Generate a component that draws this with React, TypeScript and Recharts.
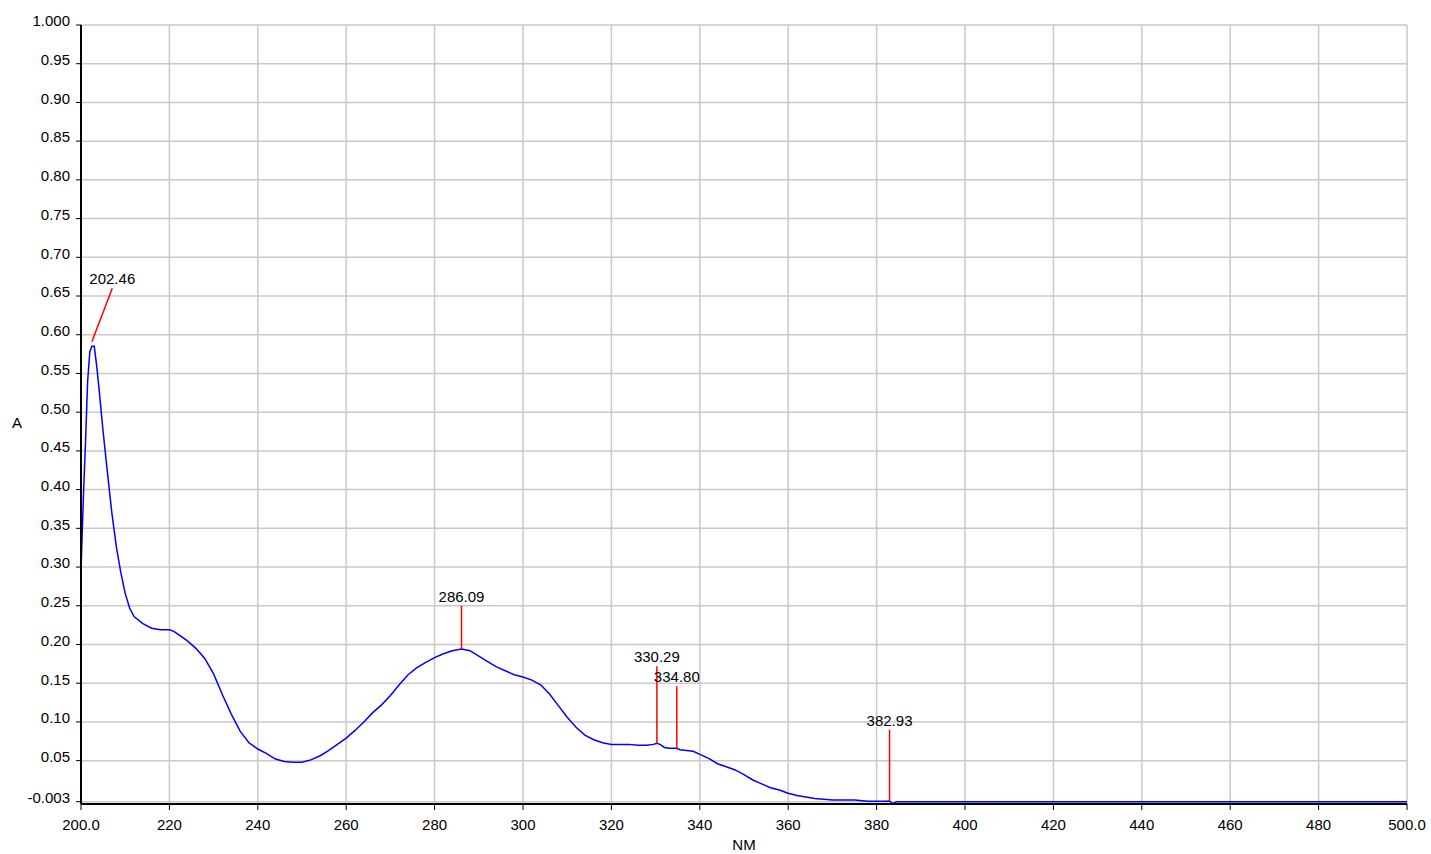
import { LineChart, Line, XAxis, YAxis, CartesianGrid, ReferenceLine, ReferenceDot } from 'recharts';

// absorbance scan, 200-500 nm
const wavelengths = [
  200.0, 200.6, 201.0, 201.5, 202.0, 202.46, 203.0, 203.5, 204.0, 205.0, 206.0, 207.0, 208.0, 209.0,
  210.0, 211.0, 212.0, 214.0, 216.0, 218.0, 220.0, 221.0, 222.0, 224.0, 226.0, 228.0, 230.0, 232.0,
  234.0, 236.0, 238.0, 240.0, 242.0, 244.0, 246.0, 248.0, 250.0, 252.0, 254.0, 256.0, 258.0, 260.0,
  262.0, 264.0, 266.0, 268.0, 270.0, 272.0, 274.0, 276.0, 278.0, 280.0, 282.0, 284.0, 286.09, 288.0,
  290.0, 292.0, 294.0, 296.0, 298.0, 300.0, 302.0, 304.0, 306.0, 308.0, 310.0, 312.0, 314.0, 316.0,
  318.0, 320.0, 322.0, 324.0, 326.0, 328.0, 329.5, 330.29, 331.0, 332.0, 333.0, 334.8, 335.5, 337.0,
  338.5, 340.0, 342.0, 344.0, 346.0, 348.0, 350.0, 352.0, 354.0, 356.0, 358.0, 360.0, 362.0, 364.0,
  366.0, 368.0, 370.0, 375.0, 378.0, 382.0, 382.93, 383.6, 384.5, 500.0,
];

const absorbance = [
  0.297, 0.4, 0.458, 0.54, 0.578, 0.585, 0.585, 0.562, 0.535, 0.475, 0.421, 0.369, 0.326, 0.293,
  0.266, 0.247, 0.236, 0.227, 0.221, 0.219, 0.219, 0.217, 0.213, 0.205, 0.195, 0.182, 0.162, 0.135,
  0.11, 0.088, 0.073, 0.065, 0.059, 0.052, 0.049, 0.048, 0.048, 0.051, 0.056, 0.063, 0.071, 0.079,
  0.089, 0.1, 0.112, 0.122, 0.134, 0.148, 0.161, 0.17, 0.177, 0.183, 0.188, 0.192, 0.194, 0.192,
  0.185, 0.178, 0.171, 0.166, 0.161, 0.158, 0.154, 0.148, 0.136, 0.121, 0.106, 0.093, 0.083, 0.077,
  0.073, 0.071, 0.071, 0.071, 0.07, 0.07, 0.071, 0.0725, 0.071, 0.067, 0.066, 0.066, 0.064, 0.063,
  0.062, 0.058, 0.053, 0.046, 0.042, 0.038, 0.032, 0.025, 0.02, 0.015, 0.012, 0.008, 0.005, 0.003,
  0.001, 0.0, -0.0008, -0.0008, -0.0025, -0.0025, -0.002, -0.0055, -0.003, -0.003,
];

// picked peaks: marker runs from base to tip, label sits at the tip
const peakNm = [202.46, 286.09, 330.29, 334.8, 382.93];
const peakBase = [0.591, 0.194, 0.0725, 0.066, -0.002];
const peakTipNm = [207.08, 286.09, 330.29, 334.8, 382.93];
const peakTip = [0.66, 0.25, 0.172, 0.146, 0.09];

const xTicks = [200, 220, 240, 260, 280, 300, 320, 340, 360, 380, 400, 420, 440, 460, 480, 500];
const yTicks = [
  -0.003, 0.05, 0.1, 0.15, 0.2, 0.25, 0.3, 0.35, 0.4, 0.45, 0.5, 0.55, 0.6, 0.65, 0.7, 0.75, 0.8,
  0.85, 0.9, 0.95, 1.0,
];

const data = wavelengths.map((nm, i) => ({ nm, a: absorbance[i] }));

const fmtX = (v: number) => (v === 200 || v === 500 ? v.toFixed(1) : String(v));
const fmtY = (v: number) => (v === 1 || v === -0.003 ? v.toFixed(3) : v.toFixed(2));

export default function App() {
  return (
    <div
      style={{
        position: 'absolute',
        left: 0,
        top: 0,
        width: 1431,
        height: 854,
        background: '#fff',
        fontFamily: "Arial, 'Liberation Sans', sans-serif",
      }}
    >
      <LineChart width={1431} height={854} data={data} margin={{ top: 25, right: 24, bottom: 0, left: 0 }}>
        <CartesianGrid stroke="#c9c9c9" strokeWidth={1.5} />
        <XAxis
          type="number"
          dataKey="nm"
          domain={[200, 500]}
          ticks={xTicks}
          tickFormatter={fmtX}
          height={50}
          interval={0}
          stroke="#000"
          axisLine={{ stroke: '#000', strokeWidth: 2 }}
          tickLine={{ stroke: '#000' }}
          tickSize={6}
          tickMargin={9}
          tick={{ fontSize: 15, fill: '#000' }}
          label={{ value: 'NM', position: 'insideBottom', offset: 4, fontSize: 15, fill: '#000' }}
        />
        <YAxis
          type="number"
          domain={[-0.006, 1]}
          ticks={yTicks}
          tickFormatter={fmtY}
          width={81}
          interval={0}
          allowDataOverflow
          stroke="#000"
          axisLine={{ stroke: '#000', strokeWidth: 2 }}
          tickLine={{ stroke: '#000' }}
          tickSize={5}
          tickMargin={6}
          tick={{ fontSize: 15, fill: '#000', dy: -4 }}
          label={{ value: 'A', position: 'insideLeft', offset: 12, dy: 8, fontSize: 15, fill: '#000' }}
        />
        <Line
          type="linear"
          dataKey="a"
          stroke="#0000ff"
          strokeWidth={1.5}
          dot={false}
          isAnimationActive={false}
        />
        {peakNm.map((nm, i) => (
          <ReferenceLine
            key={`pk-${nm}`}
            segment={[
              { x: nm, y: peakBase[i] },
              { x: peakTipNm[i], y: peakTip[i] },
            ]}
            stroke="#ff0000"
            strokeWidth={1.5}
            ifOverflow="visible"
          />
        ))}
        {peakNm.map((nm, i) => (
          <ReferenceDot
            key={`lb-${nm}`}
            x={peakTipNm[i]}
            y={peakTip[i]}
            r={0}
            fill="none"
            stroke="none"
            ifOverflow="visible"
            label={{ value: nm.toFixed(2), position: 'top', offset: 4, fontSize: 15, fill: '#000' }}
          />
        ))}
      </LineChart>
    </div>
  );
}
